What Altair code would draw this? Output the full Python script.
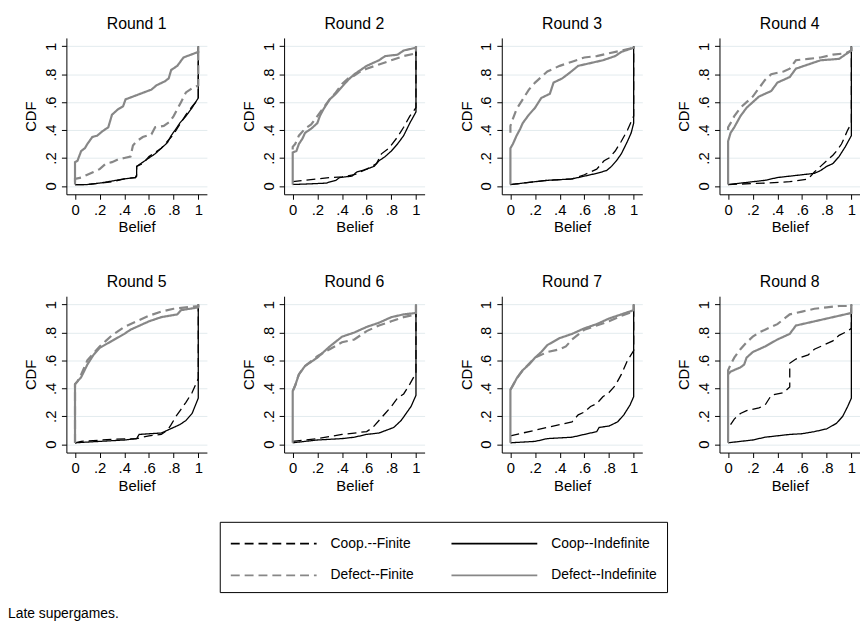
import altair as alt
import pandas as pd

SERIES = ["Coop.--Finite", "Coop--Indefinite", "Defect--Finite", "Defect--Indefinite"]
COLORS = ["#000000", "#000000", "#878787", "#878787"]
DASHES = [[9, 5], [1, 0], [9, 5], [1, 0]]
WIDTHS = [1.3, 1.3, 2.2, 2.2]
TICKS = [0, 0.2, 0.4, 0.6, 0.8, 1]
ROUND_LABELS = ["Round 1", "Round 2", "Round 3", "Round 4",
                "Round 5", "Round 6", "Round 7", "Round 8"]

# (belief, cdf) points; CF=Coop.--Finite, CI=Coop--Indefinite,
# DF=Defect--Finite, DI=Defect--Indefinite
R1_CF = [(0,0.01),(0.1,0.01),(0.2,0.02),(0.3,0.03),(0.4,0.05),(0.49,0.06),(0.5,0.08),(0.5,0.14),(0.55,0.16),(0.6,0.21),(0.65,0.24),(0.7,0.27),(0.75,0.32),(0.8,0.37),(0.85,0.44),(0.9,0.51),(0.95,0.57),(1,0.62),(1,1)]
R1_CI = [(0,0.01),(0.1,0.01),(0.2,0.02),(0.3,0.035),(0.4,0.05),(0.49,0.06),(0.5,0.07),(0.5,0.14),(0.55,0.17),(0.6,0.2),(0.65,0.23),(0.7,0.27),(0.75,0.31),(0.78,0.36),(0.82,0.41),(0.85,0.45),(0.9,0.5),(0.95,0.56),(1,0.63),(1,1)]
R1_DF = [(0,0.03),(0,0.05),(0.05,0.06),(0.1,0.08),(0.15,0.1),(0.2,0.12),(0.25,0.16),(0.3,0.17),(0.35,0.19),(0.4,0.2),(0.45,0.21),(0.47,0.29),(0.5,0.32),(0.55,0.35),(0.62,0.37),(0.65,0.42),(0.72,0.43),(0.77,0.46),(0.8,0.5),(0.83,0.55),(0.86,0.6),(0.9,0.67),(0.95,0.7),(1,0.72),(1,1)]
R1_DI = [(0,0.01),(0,0.17),(0.02,0.18),(0.05,0.25),(0.08,0.27),(0.1,0.3),(0.14,0.35),(0.18,0.36),(0.22,0.39),(0.27,0.42),(0.3,0.51),(0.35,0.55),(0.39,0.57),(0.41,0.62),(0.5,0.65),(0.62,0.69),(0.66,0.72),(0.73,0.75),(0.76,0.77),(0.78,0.83),(0.83,0.86),(0.88,0.92),(1,0.96),(1,1)]

R2_CF = [(0,0.03),(0.1,0.04),(0.2,0.05),(0.3,0.06),(0.4,0.065),(0.5,0.08),(0.55,0.1),(0.6,0.12),(0.68,0.16),(0.72,0.23),(0.78,0.27),(0.85,0.35),(0.9,0.42),(0.95,0.5),(1,0.56),(1,1)]
R2_CI = [(0,0.01),(0.15,0.015),(0.27,0.02),(0.35,0.04),(0.38,0.06),(0.48,0.07),(0.52,0.1),(0.6,0.12),(0.66,0.14),(0.7,0.18),(0.75,0.21),(0.8,0.25),(0.85,0.3),(0.9,0.36),(0.95,0.45),(1,0.53),(1,1)]
R2_DF = [(0,0.26),(0,0.28),(0.02,0.3),(0.05,0.36),(0.1,0.41),(0.15,0.44),(0.2,0.5),(0.25,0.56),(0.3,0.62),(0.35,0.67),(0.4,0.73),(0.45,0.77),(0.5,0.79),(0.55,0.82),(0.6,0.84),(0.7,0.87),(0.8,0.9),(0.9,0.93),(1,0.95),(1,1)]
R2_DI = [(0,0.01),(0,0.24),(0.03,0.25),(0.05,0.3),(0.08,0.34),(0.1,0.38),(0.15,0.41),(0.2,0.45),(0.22,0.5),(0.25,0.55),(0.3,0.62),(0.35,0.66),(0.4,0.71),(0.45,0.76),(0.5,0.8),(0.55,0.83),(0.6,0.86),(0.65,0.88),(0.7,0.9),(0.75,0.93),(0.85,0.94),(0.9,0.97),(1,0.99),(1,1)]

R3_CF = [(0,0.01),(0.1,0.02),(0.2,0.03),(0.3,0.04),(0.5,0.05),(0.6,0.08),(0.7,0.12),(0.76,0.18),(0.8,0.2),(0.85,0.25),(0.9,0.32),(0.95,0.4),(0.98,0.46),(1,0.5),(1,1)]
R3_CI = [(0,0.01),(0.1,0.02),(0.2,0.03),(0.3,0.04),(0.5,0.05),(0.6,0.07),(0.7,0.09),(0.78,0.11),(0.82,0.14),(0.86,0.18),(0.9,0.23),(0.95,0.32),(0.98,0.38),(1,0.45),(1,1)]
R3_DF = [(0,0.38),(0,0.43),(0.02,0.48),(0.05,0.55),(0.1,0.62),(0.15,0.69),(0.2,0.74),(0.25,0.78),(0.3,0.82),(0.4,0.86),(0.5,0.89),(0.6,0.92),(0.7,0.93),(0.8,0.95),(0.9,0.97),(1,0.99),(1,1)]
R3_DI = [(0,0.01),(0,0.27),(0.02,0.3),(0.05,0.36),(0.08,0.41),(0.1,0.45),(0.15,0.51),(0.2,0.56),(0.25,0.63),(0.32,0.66),(0.35,0.74),(0.42,0.77),(0.48,0.81),(0.55,0.86),(0.65,0.88),(0.75,0.9),(0.85,0.93),(0.9,0.96),(1,0.99),(1,1)]

R4_CF = [(0,0.01),(0.3,0.02),(0.5,0.03),(0.65,0.05),(0.7,0.1),(0.75,0.14),(0.8,0.18),(0.85,0.22),(0.88,0.25),(0.92,0.3),(0.97,0.4),(1,0.45),(1,1)]
R4_CI = [(0,0.01),(0.2,0.03),(0.3,0.04),(0.4,0.06),(0.5,0.07),(0.6,0.08),(0.7,0.09),(0.75,0.11),(0.8,0.14),(0.85,0.16),(0.9,0.21),(0.95,0.28),(1,0.36),(1,1)]
R4_DF = [(0,0.4),(0,0.42),(0.02,0.45),(0.05,0.5),(0.1,0.56),(0.15,0.6),(0.2,0.64),(0.25,0.7),(0.3,0.76),(0.35,0.8),(0.45,0.82),(0.5,0.84),(0.55,0.9),(0.65,0.91),(0.75,0.92),(0.85,0.94),(0.95,0.95),(1,0.97),(1,1)]
R4_DI = [(0,0.01),(0,0.32),(0.02,0.38),(0.05,0.42),(0.1,0.5),(0.15,0.56),(0.2,0.6),(0.25,0.64),(0.35,0.68),(0.4,0.74),(0.5,0.78),(0.55,0.84),(0.65,0.87),(0.75,0.9),(0.9,0.91),(1,0.97),(1,1)]

R5_CF = [(0,0.01),(0.05,0.02),(0.3,0.035),(0.5,0.04),(0.6,0.06),(0.7,0.07),(0.75,0.1),(0.78,0.14),(0.82,0.2),(0.86,0.25),(0.9,0.3),(0.95,0.37),(1,0.47),(1,1)]
R5_CI = [(0,0.01),(0.2,0.02),(0.4,0.03),(0.5,0.04),(0.52,0.07),(0.7,0.08),(0.8,0.12),(0.85,0.14),(0.9,0.17),(0.95,0.22),(1,0.33),(1,1)]
R5_DF = [(0,0.01),(0,0.43),(0.02,0.45),(0.05,0.5),(0.1,0.6),(0.15,0.65),(0.2,0.7),(0.25,0.74),(0.3,0.78),(0.4,0.84),(0.5,0.88),(0.6,0.92),(0.7,0.95),(0.8,0.97),(0.9,0.98),(1,0.99),(1,1)]
R5_DI = [(0,0.01),(0,0.43),(0.05,0.48),(0.1,0.57),(0.15,0.64),(0.2,0.69),(0.3,0.74),(0.4,0.79),(0.45,0.82),(0.55,0.86),(0.6,0.88),(0.7,0.91),(0.83,0.93),(0.86,0.96),(1,0.98),(1,1)]

R6_CF = [(0,0.02),(0.2,0.04),(0.4,0.07),(0.6,0.09),(0.65,0.12),(0.7,0.17),(0.75,0.22),(0.8,0.27),(0.85,0.33),(0.9,0.36),(0.95,0.43),(1,0.51),(1,1)]
R6_CI = [(0,0.01),(0.2,0.03),(0.4,0.04),(0.5,0.05),(0.6,0.07),(0.7,0.08),(0.82,0.12),(0.88,0.17),(0.92,0.22),(0.96,0.27),(1,0.35),(1,1)]
R6_DF = [(0,0.38),(0.02,0.42),(0.05,0.5),(0.1,0.56),(0.2,0.63),(0.3,0.68),(0.4,0.73),(0.5,0.75),(0.6,0.81),(0.7,0.85),(0.8,0.88),(0.9,0.91),(1,0.93),(1,1)]
R6_DI = [(0,0.01),(0,0.38),(0.02,0.42),(0.05,0.5),(0.1,0.56),(0.15,0.59),(0.2,0.62),(0.3,0.7),(0.4,0.77),(0.5,0.8),(0.6,0.84),(0.7,0.87),(0.8,0.91),(0.9,0.93),(1,0.94),(1,1)]

R7_CF = [(0,0.06),(0.1,0.08),(0.2,0.1),(0.3,0.12),(0.4,0.14),(0.5,0.16),(0.55,0.21),(0.6,0.23),(0.65,0.27),(0.7,0.29),(0.75,0.34),(0.8,0.37),(0.85,0.42),(0.9,0.5),(0.95,0.6),(1,0.67),(1,1)]
R7_CI = [(0,0.01),(0.2,0.02),(0.3,0.04),(0.5,0.05),(0.6,0.07),(0.7,0.09),(0.72,0.12),(0.8,0.13),(0.87,0.16),(0.92,0.21),(0.97,0.28),(1,0.34),(1,1)]
R7_DF = [(0,0.39),(0.05,0.47),(0.1,0.53),(0.2,0.62),(0.3,0.66),(0.4,0.68),(0.45,0.7),(0.5,0.75),(0.6,0.82),(0.7,0.85),(0.8,0.88),(0.9,0.92),(1,0.95),(1,1)]
R7_DI = [(0,0.01),(0,0.39),(0.02,0.42),(0.05,0.47),(0.1,0.53),(0.15,0.57),(0.2,0.62),(0.25,0.66),(0.3,0.71),(0.4,0.76),(0.5,0.79),(0.6,0.83),(0.7,0.86),(0.8,0.9),(0.9,0.93),(1,0.96),(1,1)]

R8_CF = [(0.02,0.14),(0.05,0.18),(0.1,0.22),(0.15,0.24),(0.25,0.26),(0.3,0.28),(0.35,0.35),(0.45,0.37),(0.5,0.41),(0.5,0.58),(0.55,0.61),(0.65,0.64),(0.7,0.68),(0.75,0.7),(0.85,0.74),(0.9,0.78),(0.97,0.81),(1,0.83),(1,1)]
R8_CI = [(0,0.01),(0.2,0.03),(0.3,0.05),(0.4,0.06),(0.5,0.07),(0.6,0.075),(0.7,0.09),(0.8,0.11),(0.88,0.15),(0.93,0.2),(0.97,0.27),(1,0.33),(1,1)]
R8_DF = [(0,0.5),(0,0.53),(0.02,0.57),(0.05,0.62),(0.1,0.68),(0.15,0.73),(0.2,0.77),(0.25,0.8),(0.3,0.82),(0.4,0.86),(0.5,0.93),(0.6,0.95),(0.7,0.97),(0.8,0.98),(0.9,0.99),(1,0.99),(1,1)]
R8_DI = [(0,0.01),(0,0.5),(0.02,0.52),(0.1,0.55),(0.13,0.57),(0.15,0.62),(0.2,0.66),(0.3,0.7),(0.4,0.75),(0.5,0.79),(0.55,0.85),(0.7,0.88),(0.8,0.9),(0.9,0.92),(1,0.94),(1,1)]

ROUND_SERIES = [
    (R1_CF, R1_CI, R1_DF, R1_DI), (R2_CF, R2_CI, R2_DF, R2_DI),
    (R3_CF, R3_CI, R3_DF, R3_DI), (R4_CF, R4_CI, R4_DF, R4_DI),
    (R5_CF, R5_CI, R5_DF, R5_DI), (R6_CF, R6_CI, R6_DF, R6_DI),
    (R7_CF, R7_CI, R7_DF, R7_DI), (R8_CF, R8_CI, R8_DF, R8_DI),
]

rows = []
for r, group in enumerate(ROUND_SERIES):
    for k, (name, pts) in enumerate(zip(SERIES, group)):
        for i, (x, y) in enumerate(pts):
            rows.append({"round": r, "series": name, "i": i, "x": x, "y": y,
                         "w": WIDTHS[k]})
df = pd.DataFrame(rows)

LBL = ("datum.value == 0 ? '0' : datum.value == 1 ? '1' : "
       "replace(format(datum.value, '.1f'), '0.', '.')")
FONT = "Liberation Sans"

legend = alt.Legend(
    title=None, orient="none", legendX=155, legendY=489,
    columns=2, direction="horizontal",
    symbolType="M-1,0H7", symbolSize=470, symbolStrokeWidth=1.8,
    labelFontSize=14, labelFont=FONT, labelColor="black", labelOffset=78,
    labelLimit=300, padding=10, rowPadding=13, columnPadding=33,
    strokeColor="black", fillColor="white", symbolOffset=0,
)


def panel(r):
    d = df[df["round"] == r]
    return alt.Chart(d).mark_line().encode(
        x=alt.X("x:Q", scale=alt.Scale(domain=[-0.07, 1.07], nice=False, zero=False),
                axis=alt.Axis(values=TICKS, labelExpr=LBL, title="Belief", grid=False)),
        y=alt.Y("y:Q", scale=alt.Scale(domain=[-0.06, 1.06], nice=False, zero=False),
                axis=alt.Axis(values=TICKS, labelExpr=LBL, title="CDF", grid=True,
                              labelAngle=270)),
        color=alt.Color("series:N", scale=alt.Scale(domain=SERIES, range=COLORS), legend=legend),
        strokeDash=alt.StrokeDash("series:N", scale=alt.Scale(domain=SERIES, range=DASHES), legend=legend),
        strokeWidth=alt.StrokeWidth("w:Q", scale=None, legend=None),
        order=alt.Order("i:Q"),
    ).properties(
        width=142, height=158,
        title=alt.TitleParams(ROUND_LABELS[r], fontSize=16, fontWeight="normal",
                              font=FONT, color="black", offset=6),
    )


row1 = alt.hconcat(*[panel(r) for r in range(4)], spacing=35)
row2 = alt.hconcat(*[panel(r) for r in range(4, 8)], spacing=35)

chart = alt.vconcat(row1, row2, spacing=40).resolve_scale(
    color="shared", strokeDash="shared"
).properties(
    title=alt.TitleParams("Late supergames.", orient="bottom", anchor="start",
                          fontSize=14, fontWeight="normal", font=FONT, color="black",
                          dx=-16, offset=15),
    padding={"left": 0, "top": 5, "right": 0, "bottom": 0},
).configure_view(stroke=None).configure_axis(
    domainColor="black", tickColor="black", labelColor="black", titleColor="black",
    labelFont=FONT, titleFont=FONT, labelFontSize=15, titleFontSize=15,
    titleFontWeight="normal", tickSize=5, gridColor="#e3ebee", gridWidth=1,
    labelPadding=3, titlePadding=3,
).configure_axisY(titlePadding=5)

chart.save("out.html", embed_options={"renderer": "svg", "actions": False})
